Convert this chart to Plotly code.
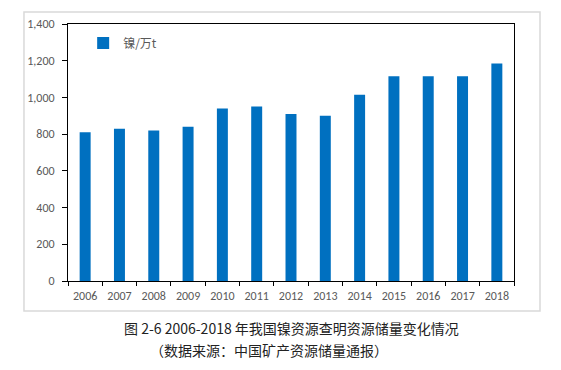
import plotly.graph_objects as go

years = ["2006", "2007", "2008", "2009", "2010", "2011", "2012",
         "2013", "2014", "2015", "2016", "2017", "2018"]
nickel_reserves = [810, 830, 820, 840, 940, 950, 910, 900, 1015, 1115, 1115, 1115, 1185]
y_ticks = [0, 200, 400, 600, 800, 1000, 1200, 1400]
series_name = "镍/万t"
caption_1 = "图 2-6 2006-2018 年我国镍资源查明资源储量变化情况"
caption_2 = "（数据来源：中国矿产资源储量通报）"

tick_font = dict(family="Carlito, Lato, 'Noto Sans', sans-serif", size=12, color="#595959")
cjk_font = "Noto Sans CJK SC, sans-serif"

fig = go.Figure()
fig.add_trace(go.Bar(
    x=years, y=nickel_reserves, name=series_name,
    marker=dict(color="#0070C0", line=dict(width=0)),
    showlegend=True,
))

fig.update_layout(
    width=561, height=370,
    margin=dict(l=68, r=47, t=24, b=89),
    paper_bgcolor="white", plot_bgcolor="white",
    bargap=0.68,
    showlegend=True,
    legend=dict(
        x=0.034, y=0.926, xanchor="left", yanchor="middle",
        bgcolor="rgba(0,0,0,0)", borderwidth=0,
        font=dict(family=cjk_font, size=12, color="#595959"),
        itemwidth=30,
    ),
    xaxis=dict(
        type="category", tickson="boundaries", ticks="outside", ticklen=4,
        tickcolor="black", tickwidth=1, ticklabelstandoff=4,
        showline=True, linecolor="black", linewidth=1, mirror=True,
        showgrid=False, tickfont=tick_font,
    ),
    yaxis=dict(
        range=[0, 1400], tickvals=y_ticks, tickformat=",",
        ticks="outside", ticklen=5, tickcolor="black", tickwidth=1,
        ticklabelstandoff=5,
        showline=True, linecolor="black", linewidth=1, mirror=True,
        showgrid=False, zeroline=False, tickfont=tick_font,
    ),
    shapes=[dict(
        type="rect", xref="paper", yref="paper",
        x0=-0.0987, x1=1.0583, y0=-0.1167, y1=1.0467,
        line=dict(color="#d9d9d9", width=1.5), fillcolor="rgba(0,0,0,0)",
        layer="below",
    )],
    annotations=[
        dict(text=caption_1, xref="paper", yref="paper", x=0.502, y=-0.183,
             xanchor="center", yanchor="middle", showarrow=False,
             font=dict(family=cjk_font, size=14, color="#222222")),
        dict(text=caption_2, xref="paper", yref="paper", x=0.451, y=-0.268,
             xanchor="center", yanchor="middle", showarrow=False,
             font=dict(family=cjk_font, size=14, color="#222222")),
    ],
)

fig.write_html("out.html", config={"displayModeBar": False},
               post_script="document.body.style.margin='0';")
